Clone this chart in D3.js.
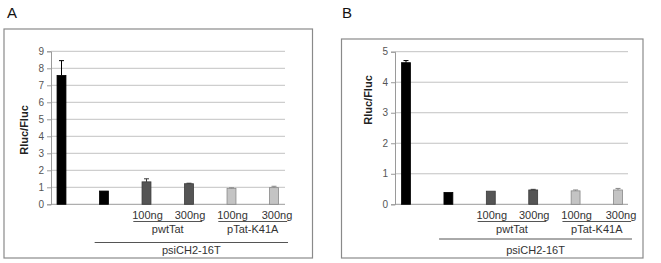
<!DOCTYPE html>
<html>
<head>
<meta charset="utf-8">
<script src="https://cdn.jsdelivr.net/npm/d3@7"></script>
<style>
  body { margin: 0; background: #fff; }
  svg { font-family: "Liberation Sans", Arial, sans-serif; }
</style>
</head>
<body>
<div id="chart"></div>
<script>
// data
const categories = ["ctrl", "psi", "wt100", "wt300", "k41a100", "k41a300"];
const doseLabels = ["", "", "100ng", "300ng", "100ng", "300ng"];
const plasmidGroups = [
    {name: "pwtTat", from: "wt100", to: "wt300"},
    {name: "pTat-K41A", from: "k41a100", to: "k41a300"}
];
const reporterLabel = "psiCH2-16T";
const barFill = ["#000000", "#000000", "#555555", "#555555", "#c4c4c4", "#c4c4c4"];
const barStroke = ["#000000", "#000000", "#3a3a3a", "#3a3a3a", "#888888", "#888888"];

const valuesA = [7.58, 0.78, 1.32, 1.21, 0.94, 0.98];
const errorsA = [0.87, 0.0, 0.18, 0.03, 0.03, 0.08];
const ticksA = [0, 1, 2, 3, 4, 5, 6, 7, 8, 9];

const valuesB = [4.64, 0.39, 0.43, 0.47, 0.44, 0.47];
const errorsB = [0.07, 0.0, 0.0, 0.02, 0.03, 0.05];
const ticksB = [0, 1, 2, 3, 4, 5];

const svg = d3.select("#chart").append("svg")
    .attr("width", 661)
    .attr("height", 263);

function drawPanel(p) {
    let g = svg.append("g");

    // frame
    g.append("rect")
        .attr("x", p.frame[0]).attr("y", p.frame[1])
        .attr("width", p.frame[2] - p.frame[0]).attr("height", p.frame[3] - p.frame[1])
        .attr("fill", "none").attr("stroke", "#8a8a8a").attr("stroke-width", 1.2);

    g.append("text")
        .attr("x", p.letter[0]).attr("y", p.letter[1])
        .attr("font-size", 15).attr("fill", "#111")
        .text(p.name);

    const x = d3.scaleBand()
        .domain(categories)
        .range(p.band)
        .paddingInner(0.79)
        .paddingOuter(0.395);
    const y = d3.scaleLinear()
        .domain([0, p.max])
        .range([p.bottom, p.top]);

    const rows = categories.map((c, i) => ({c: c, v: p.values[i], e: p.errors[i], i: i}));
    const cx = c => x(c) + x.bandwidth() / 2;

    // gridlines
    g.selectAll(".grid").data(p.ticks).enter()
        .append("line")
        .attr("class", "grid")
        .attr("x1", p.axisX).attr("x2", p.gridEnd)
        .attr("y1", d => y(d)).attr("y2", d => y(d))
        .attr("stroke", d => d === 0 ? "#9a9a9a" : "#c2c2c2")
        .attr("stroke-width", 1);

    // y axis
    const yAxis = g.append("g")
        .attr("transform", `translate(${p.axisX},0)`)
        .call(d3.axisLeft(y).tickValues(p.ticks).tickSize(4).tickPadding(3).tickFormat(d3.format("d")));
    yAxis.select(".domain").attr("stroke", "#9a9a9a");
    yAxis.selectAll(".tick line").attr("stroke", "#9a9a9a");
    yAxis.selectAll(".tick text").attr("fill", "#555").attr("font-size", 10)
        .attr("font-family", "\"Liberation Sans\", Arial, sans-serif");

    g.append("text")
        .attr("transform", `translate(${p.yLabel[0]},${p.yLabel[1]}) rotate(-90)`)
        .attr("text-anchor", "middle")
        .attr("font-size", 11).attr("font-weight", "bold").attr("fill", "#222")
        .text("Rluc/Fluc");

    // bars
    g.selectAll(".bar").data(rows).enter()
        .append("rect")
        .attr("class", "bar")
        .attr("x", d => x(d.c))
        .attr("y", d => y(d.v))
        .attr("width", x.bandwidth())
        .attr("height", d => y(0) - y(d.v))
        .attr("fill", d => barFill[d.i])
        .attr("stroke", d => barStroke[d.i])
        .attr("stroke-width", 0.8);

    // error bars (upper only)
    let eb = g.selectAll(".err").data(rows.filter(d => d.e > 0)).enter()
        .append("g").attr("class", "err");
    eb.append("line")
        .attr("x1", d => cx(d.c)).attr("x2", d => cx(d.c))
        .attr("y1", d => y(d.v)).attr("y2", d => y(d.v + d.e))
        .attr("stroke", d => barStroke[d.i]).attr("stroke-width", 1);
    eb.append("line")
        .attr("x1", d => cx(d.c) - 2.5).attr("x2", d => cx(d.c) + 2.5)
        .attr("y1", d => y(d.v + d.e)).attr("y2", d => y(d.v + d.e))
        .attr("stroke", d => barStroke[d.i]).attr("stroke-width", 1);

    // dose labels
    g.selectAll(".dose").data(rows).enter()
        .append("text")
        .attr("class", "dose")
        .attr("x", d => cx(d.c) + (d.i === 5 ? 3 : 1))
        .attr("y", 219)
        .attr("text-anchor", "middle")
        .attr("font-size", 11).attr("fill", "#333")
        .text(d => doseLabels[d.i]);

    const step = x.step();
    plasmidGroups.forEach(function (grp) {
        let x1 = cx(grp.from) - step * 0.31, x2 = cx(grp.to) + step * 0.31;
        g.append("line")
            .attr("x1", x1).attr("x2", x2).attr("y1", 221.5).attr("y2", 221.5)
            .attr("stroke", "#555").attr("stroke-width", 1);
        g.append("text")
            .attr("x", (x1 + x2) / 2).attr("y", 232.5)
            .attr("text-anchor", "middle")
            .attr("font-size", 11).attr("fill", "#333")
            .text(grp.name);
    });

    let lx1 = cx("psi") - step * 0.22, lx2 = cx("k41a300") + step * 0.33;
    g.append("line")
        .attr("x1", lx1).attr("x2", lx2).attr("y1", p.longY).attr("y2", p.longY)
        .attr("stroke", "#555").attr("stroke-width", 1);
    g.append("text")
        .attr("x", (lx1 + lx2) / 2).attr("y", 254)
        .attr("text-anchor", "middle")
        .attr("font-size", 11).attr("fill", "#333")
        .text(reporterLabel);
}

drawPanel({
    name: "A", letter: [7, 17.5],
    frame: [4, 29, 312.5, 258],
    values: valuesA, errors: errorsA, ticks: ticksA, max: 9,
    axisX: 51, gridEnd: 285, top: 51.3, bottom: 204.3,
    band: [40.25, 295.25], yLabel: [28, 130], longY: 242.5
});

drawPanel({
    name: "B", letter: [342, 17.5],
    frame: [341.5, 39, 643, 258],
    values: valuesB, errors: errorsB, ticks: ticksB, max: 5,
    axisX: 395, gridEnd: 628, top: 51.7, bottom: 204.3,
    band: [384.8, 639.2], yLabel: [372, 100], longY: 239
});
</script>
</body>
</html>
